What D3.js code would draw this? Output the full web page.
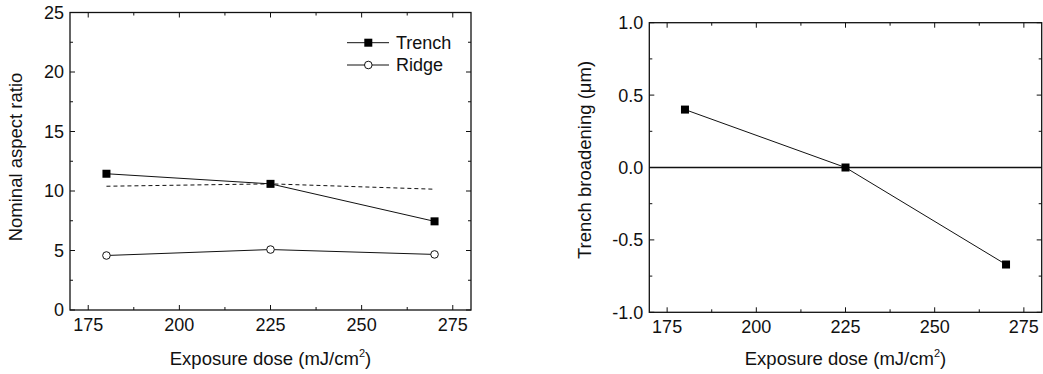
<!DOCTYPE html>
<html>
<head>
<meta charset="utf-8">
<script src="https://cdn.jsdelivr.net/npm/d3@7"></script>
<style>
body { margin: 0; background: #fff; }
svg text { font-family: "Liberation Sans", Arial, sans-serif; fill: #111; }
</style>
</head>
<body>
<svg id="chart" width="1043" height="374"></svg>
<script>
// doses used in both panels
var doses = [180, 225, 270];

// left panel
var trenchRatio = [11.45, 10.6, 7.45];
var ridgeRatio = [4.58, 5.08, 4.67];
var dashedRatio = [10.4, 10.6, 10.15];
var ratioTicks = [0, 5, 10, 15, 20, 25];

// right panel
var broadening = [0.4, 0.0, -0.67];
var broadTicks = [-1.0, -0.5, 0.0, 0.5, 1.0];

var doseTicks = [175, 200, 225, 250, 275];
var doseMinor = [187.5, 212.5, 237.5, 262.5];

var legendNames = ["Trench", "Ridge"];

var FONT = 18;
var TITLE_FONT = 18.5;
var svg = d3.select("#chart");

function drawFrame(g, x, y, yMajor, yMinor, fmt) {
	var x0 = x.range()[0], x1 = x.range()[1];
	var y0 = y.range()[0], y1 = y.range()[1];

	// inward ticks on all four sides
	var ticks = g.append("g").attr("stroke", "#111").attr("stroke-width", 1);
	doseTicks.concat(doseMinor).forEach(function(d) {
		var len = doseTicks.indexOf(d) >= 0 ? 5 : 3;
		ticks.append("line").attr("x1", x(d)).attr("x2", x(d)).attr("y1", y0).attr("y2", y0 - len);
		ticks.append("line").attr("x1", x(d)).attr("x2", x(d)).attr("y1", y1).attr("y2", y1 + len);
	});
	yMajor.concat(yMinor).forEach(function(d) {
		var len = yMajor.indexOf(d) >= 0 ? 5 : 3;
		ticks.append("line").attr("y1", y(d)).attr("y2", y(d)).attr("x1", x0).attr("x2", x0 + len);
		ticks.append("line").attr("y1", y(d)).attr("y2", y(d)).attr("x1", x1).attr("x2", x1 - len);
	});

	g.append("rect")
		.attr("x", x0).attr("y", y1)
		.attr("width", x1 - x0).attr("height", y0 - y1)
		.attr("fill", "none").attr("stroke", "#111").attr("stroke-width", 1.3);

	g.selectAll(".xl").data(doseTicks).enter().append("text")
		.attr("x", function(d) { return x(d); })
		.attr("y", y0 + 21)
		.attr("text-anchor", "middle")
		.attr("font-size", FONT)
		.text(function(d) { return d; });

	g.selectAll(".yl").data(yMajor).enter().append("text")
		.attr("x", x0 - 6)
		.attr("y", function(d) { return y(d); })
		.attr("dy", "0.36em")
		.attr("text-anchor", "end")
		.attr("font-size", FONT)
		.text(fmt);

	var xt = g.append("text")
		.attr("x", (x0 + x1) / 2)
		.attr("y", 365)
		.attr("text-anchor", "middle")
		.attr("font-size", TITLE_FONT);
	xt.append("tspan").text("Exposure dose (mJ/cm");
	xt.append("tspan").attr("font-size", 11).attr("dy", -8).text("2");
	xt.append("tspan").attr("dy", 8).text(")");
}

function squares(g, x, y, vals) {
	g.selectAll(null).data(vals).enter().append("rect")
		.attr("x", function(d, i) { return x(doses[i]) - 4; })
		.attr("y", function(d) { return y(d) - 4; })
		.attr("width", 8).attr("height", 8)
		.attr("fill", "#000");
}

function circles(g, x, y, vals) {
	g.selectAll(null).data(vals).enter().append("circle")
		.attr("cx", function(d, i) { return x(doses[i]); })
		.attr("cy", function(d) { return y(d); })
		.attr("r", 3.8)
		.attr("fill", "#fff").attr("stroke", "#111").attr("stroke-width", 1);
}

function seriesLine(g, x, y, vals, dash) {
	var line = d3.line()
		.x(function(d, i) { return x(doses[i]); })
		.y(function(d) { return y(d); });
	g.append("path").datum(vals)
		.attr("d", line)
		.attr("fill", "none").attr("stroke", "#111").attr("stroke-width", 1)
		.attr("stroke-dasharray", dash || null);
}

// ---- left panel ----
var xL = d3.scaleLinear().domain([170, 280]).range([70, 471]);
var yL = d3.scaleLinear().domain([0, 25]).range([310, 12.5]);
var gL = svg.append("g");

drawFrame(gL, xL, yL, ratioTicks, [2.5, 7.5, 12.5, 17.5, 22.5], function(d) { return d; });
seriesLine(gL, xL, yL, dashedRatio, "4,3");
seriesLine(gL, xL, yL, trenchRatio);
seriesLine(gL, xL, yL, ridgeRatio);
squares(gL, xL, yL, trenchRatio);
circles(gL, xL, yL, ridgeRatio);

gL.append("text")
	.attr("transform", "translate(22,157) rotate(-90)")
	.attr("text-anchor", "middle")
	.attr("font-size", TITLE_FONT)
	.text("Nominal aspect ratio");

// legend
var leg = gL.append("g");
legendNames.forEach(function(name, i) {
	var ly = 42.7 + i * 22.3;
	leg.append("line").attr("x1", 347).attr("x2", 389).attr("y1", ly).attr("y2", ly)
		.attr("stroke", "#111").attr("stroke-width", 1);
	if (i === 0) {
		leg.append("rect").attr("x", 364.3).attr("y", ly - 4).attr("width", 8).attr("height", 8).attr("fill", "#000");
	} else {
		leg.append("circle").attr("cx", 368.3).attr("cy", ly).attr("r", 3.8)
			.attr("fill", "#fff").attr("stroke", "#111");
	}
	leg.append("text").attr("x", 396).attr("y", ly).attr("dy", "0.36em")
		.attr("font-size", FONT).text(name);
});

// ---- right panel ----
var xR = d3.scaleLinear().domain([170, 280]).range([649.3, 1041.7]);
var yR = d3.scaleLinear().domain([-1, 1]).range([312.3, 22.7]);
var gR = svg.append("g");

// hyphen instead of unicode minus, as in the original figure
drawFrame(gR, xR, yR, broadTicks, [-0.75, -0.25, 0.25, 0.75], function(d) { return d.toFixed(1); });
gR.append("line")
	.attr("x1", xR.range()[0]).attr("x2", xR.range()[1])
	.attr("y1", yR(0)).attr("y2", yR(0))
	.attr("stroke", "#111").attr("stroke-width", 1.3);
seriesLine(gR, xR, yR, broadening);
squares(gR, xR, yR, broadening);

gR.append("text")
	.attr("transform", "translate(591,160) rotate(-90)")
	.attr("text-anchor", "middle")
	.attr("font-size", TITLE_FONT)
	.text("Trench broadening (μm)");
</script>
</body>
</html>
